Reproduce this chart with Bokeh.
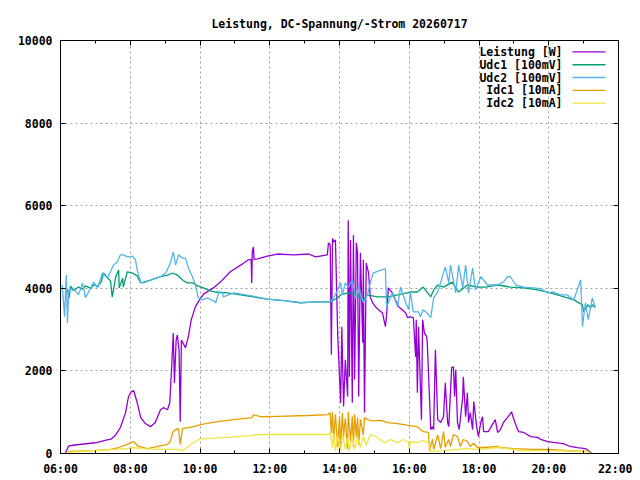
from bokeh.plotting import figure
from bokeh.models import FixedTicker, LinearAxis, Label, Arrow, Range1d
from bokeh.embed import file_html
from bokeh.resources import INLINE

TITLE = "Leistung, DC-Spannung/-Strom 20260717"
x_ticks = [6, 8, 10, 12, 14, 16, 18, 20, 22]
x_tick_labels = ["06:00", "08:00", "10:00", "12:00", "14:00", "16:00", "18:00", "20:00", "22:00"]
x_minor = [7, 9, 11, 13, 15, 17, 19, 21]
y_ticks = [0, 2000, 4000, 6000, 8000, 10000]
y_tick_labels = ["0", "2000", "4000", "6000", "8000", "10000"]

names = ["Leistung [W]", "Udc1 [100mV]", "Udc2 [100mV]", "Idc1 [10mA]", "Idc2 [10mA]"]
colors = ["#9400d3", "#009e73", "#56b4e9", "#e69f00", "#f0e442"]

t_leistung = ["06:08", "06:10", "06:14", "06:21", "06:40", "07:00", "07:20", "07:26", "07:35", "07:43",
              "07:52", "07:57", "08:02", "08:06", "08:12", "08:18", "08:26", "08:35", "08:43", "08:52",
              "08:57", "09:04", "09:08", "09:11", "09:14", "09:16", "09:19", "09:21", "09:24", "09:26",
              "09:28", "09:35", "09:40", "09:45", "09:52", "09:57", "10:06", "10:23", "10:35", "10:52",
              "11:10", "11:23", "11:28", "11:29", "11:30", "11:32", "11:33", "11:39", "11:56", "12:13",
              "12:41", "13:07", "13:19", "13:39", "13:41", "13:44", "13:46", "13:48", "13:50", "13:53",
              "13:57", "14:02", "14:04", "14:07", "14:10", "14:14", "14:15", "14:17", "14:19", "14:22",
              "14:24", "14:26", "14:29", "14:31", "14:33", "14:36", "14:40", "14:41", "14:43", "14:46",
              "14:50", "14:53", "14:57", "15:02", "15:07", "15:14", "15:19", "15:21", "15:24", "15:31",
              "15:36", "15:42", "15:48", "15:54", "15:57", "16:02", "16:07", "16:11", "16:12", "16:14",
              "16:16", "16:19", "16:21", "16:23", "16:26", "16:30", "16:31", "16:37", "16:40", "16:42",
              "16:45", "16:49", "16:54", "16:59", "17:02", "17:06", "17:08", "17:13", "17:16", "17:18",
              "17:20", "17:23", "17:26", "17:32", "17:33", "17:37", "17:40", "17:42", "17:45", "17:49",
              "17:51", "17:56", "17:59", "18:03", "18:06", "18:08", "18:16", "18:23", "18:28", "18:32",
              "18:37", "18:42", "18:49", "18:56", "18:59", "19:03", "19:08", "19:17", "19:29", "19:41",
              "19:46", "19:58", "20:08", "20:25", "20:37", "20:49", "21:03", "21:08", "21:14"]
leistung = [0, 60, 180, 200, 230, 260, 330, 340, 450, 630,
            990, 1380, 1500, 1520, 1230, 870, 725, 650, 750, 1060,
            1110, 1060, 1230, 2030, 2920, 1710, 2750, 2870, 2500, 770,
            2750, 2560, 2830, 3240, 3550, 3670, 3860, 4010, 4150, 4400,
            4560, 4690, 4700, 4130, 4900, 5000, 4700, 4710, 4780, 4830,
            4810, 4830, 4760, 4810, 5100, 5050, 2390, 5210, 5120, 5170,
            2830, 1230, 3070, 1140, 2270, 1380, 5650, 1860, 5170, 1230,
            5290, 1790, 5100, 4860, 1380, 4860, 2680, 4690, 990, 4610,
            4370, 3790, 3650, 3550, 3480, 3400, 3070, 3350, 4010, 3890,
            3720, 3550, 3480, 3400, 3290, 3310, 3290, 2340, 3240, 1470,
            3070, 1710, 820, 3240, 2920, 2830, 2680, 580, 650, 580,
            2510, 820, 750, 890, 1710, 750, 650, 2080, 2100, 1380,
            2030, 750, 580, 1380, 1860, 890, 1470, 750, 990, 580,
            1260, 650, 410, 750, 890, 530, 530, 700, 820, 510,
            580, 750, 870, 1010, 870, 700, 530, 510, 410, 390,
            340, 290, 270, 240, 170, 140, 120, 70, 0]

t_udc1 = ["06:12", "06:15", "06:17", "06:22", "06:31", "06:38", "06:43", "06:52", "06:57", "07:04",
          "07:10", "07:14", "07:21", "07:26", "07:29", "07:35", "07:40", "07:41", "07:47", "07:48",
          "07:55", "08:04", "08:12", "08:18", "08:23", "08:35", "08:52", "09:04", "09:13", "09:21",
          "09:30", "09:38", "09:47", "09:56", "10:06", "10:18", "10:27", "10:47", "11:10", "11:32",
          "11:56", "12:24", "12:53", "13:22", "13:44", "13:57", "14:02", "14:14", "14:31", "14:41",
          "14:48", "15:05", "15:23", "15:40", "16:02", "16:14", "16:24", "16:37", "16:42", "16:49",
          "16:59", "17:14", "17:25", "17:40", "17:57", "18:11", "18:32", "18:54", "19:17", "19:41",
          "19:58", "20:15", "20:32", "20:43", "20:58", "21:00", "21:07", "21:12", "21:15", "21:20"]
udc1 = [3980, 3770, 4050, 3950, 4030, 3980, 4060, 4000, 4080, 4050,
        4150, 4370, 4250, 4180, 3790, 4280, 4440, 4010, 4250, 4030,
        4400, 4370, 4300, 4130, 4150, 4200, 4280, 4320, 4370, 4320,
        4200, 4130, 4130, 4060, 4010, 3940, 3910, 3890, 3840, 3790,
        3740, 3700, 3650, 3670, 3670, 3770, 3840, 3890, 3840, 3720,
        3840, 3790, 3790, 3840, 3910, 3910, 4030, 3790, 3960, 4080,
        4030, 4150, 3910, 4080, 4030, 4030, 4080, 4030, 4010, 3960,
        3910, 3840, 3770, 3720, 3600, 3430, 3600, 3530, 3600, 3530]

t_udc2 = ["06:03", "06:07", "06:10", "06:12", "06:14", "06:22", "06:31", "06:38", "06:43", "06:52",
          "06:57", "07:04", "07:12", "07:21", "07:26", "07:31", "07:38", "07:43", "07:48", "07:55",
          "08:04", "08:09", "08:12", "08:18", "08:23", "08:35", "08:52", "09:01", "09:09", "09:14",
          "09:18", "09:23", "09:30", "09:35", "09:40", "09:47", "09:52", "09:57", "10:04", "10:13",
          "10:16", "10:23", "10:27", "10:32", "10:39", "10:40", "10:58", "11:27", "11:56", "12:24",
          "12:53", "13:22", "13:44", "13:50", "13:57", "14:02", "14:05", "14:10", "14:15", "14:22",
          "14:28", "14:33", "14:41", "14:48", "14:53", "14:58", "15:11", "15:19", "15:21", "15:31",
          "15:40", "15:45", "15:54", "15:59", "16:02", "16:07", "16:16", "16:19", "16:24", "16:31",
          "16:37", "16:42", "16:49", "17:02", "17:08", "17:11", "17:20", "17:25", "17:32", "17:37",
          "17:42", "17:49", "17:54", "18:03", "18:15", "18:32", "18:42", "18:49", "18:54", "19:03",
          "19:17", "19:34", "19:46", "19:58", "20:08", "20:20", "20:32", "20:43", "20:55", "20:58",
          "21:03", "21:08", "21:15", "21:20"]
udc2 = [4080, 3310, 4320, 3160, 3930, 4010, 3840, 4130, 3770, 4010,
        4150, 4010, 4370, 4250, 4400, 4560, 4640, 4810, 4810, 4760,
        4780, 4690, 4440, 4150, 4130, 4200, 4280, 4370, 4610, 4880,
        4560, 4810, 4730, 4730, 4490, 4280, 4080, 3770, 3720, 3770,
        3740, 3700, 3650, 3890, 3890, 3790, 3890, 3820, 3740, 3700,
        3650, 3670, 3670, 3770, 3960, 4130, 3840, 4130, 4030, 4200,
        3770, 4030, 3650, 3840, 4130, 4370, 4440, 4470, 3550, 3890,
        3550, 4030, 3650, 3480, 3910, 3430, 3430, 3310, 3480, 3400,
        3290, 3770, 3910, 4520, 4130, 4560, 3890, 4560, 4010, 4560,
        3890, 4490, 3960, 4280, 4080, 4080, 4150, 4280, 4280, 4080,
        4030, 4010, 3990, 3890, 3910, 3840, 3840, 3720, 4200, 3070,
        3650, 3240, 3770, 3530]

t_idc1 = ["06:12", "06:57", "07:26", "07:40", "07:55", "08:06", "08:14", "08:30", "08:47", "09:04",
          "09:09", "09:13", "09:18", "09:23", "09:26", "09:30", "09:49", "10:01", "10:30", "10:58",
          "11:30", "11:32", "11:44", "12:13", "13:07", "13:40", "13:44", "13:46", "13:48", "13:50",
          "13:53", "13:57", "14:00", "14:02", "14:05", "14:07", "14:10", "14:14", "14:15", "14:19",
          "14:22", "14:24", "14:26", "14:29", "14:31", "14:33", "14:36", "14:41", "14:43", "14:48",
          "14:58", "15:11", "15:23", "15:40", "15:59", "16:14", "16:19", "16:24", "16:33", "16:35",
          "16:40", "16:42", "16:49", "16:54", "16:59", "17:02", "17:08", "17:11", "17:16", "17:23",
          "17:28", "17:33", "17:40", "17:45", "17:51", "17:57", "18:08", "18:32", "18:37", "18:59",
          "19:34", "20:03", "20:32", "21:07", "21:12"]
idc1 = [50, 70, 100, 145, 220, 290, 170, 120, 170, 220,
        290, 510, 580, 600, 220, 600, 650, 700, 770, 820,
        870, 940, 890, 900, 920, 940, 990, 500, 1000, 300,
        950, 150, 900, 200, 980, 400, 850, 100, 1010, 300,
        900, 150, 950, 400, 870, 200, 820, 450, 870, 820,
        790, 800, 750, 725, 680, 650, 580, 530, 510, 60,
        350, 100, 450, 120, 530, 150, 340, 170, 460, 410,
        170, 340, 290, 170, 250, 145, 145, 170, 145, 120,
        100, 100, 70, 50, 0]

t_idc2 = ["06:12", "07:55", "08:06", "08:18", "08:52", "09:21", "09:30", "09:38", "09:49", "10:01",
          "10:13", "10:47", "11:27", "11:44", "12:41", "13:40", "13:44", "13:48", "13:50", "13:53",
          "13:57", "14:02", "14:05", "14:10", "14:14", "14:17", "14:22", "14:26", "14:31", "14:36",
          "14:41", "14:46", "14:53", "15:05", "15:14", "15:19", "15:28", "15:40", "15:50", "15:59",
          "16:00", "16:02", "16:14", "16:24", "16:33", "16:37", "17:00", "17:23", "17:37", "18:03",
          "18:32", "18:49", "19:11", "19:58", "21:07", "21:12"]
idc2 = [30, 120, 145, 120, 100, 100, 70, 150, 265, 360,
        360, 390, 435, 460, 460, 460, 500, 150, 480, 60,
        420, 80, 460, 100, 380, 60, 440, 100, 400, 150,
        420, 200, 460, 390, 290, 265, 340, 265, 340, 265,
        100, 290, 265, 310, 265, 50, 70, 100, 120, 100,
        145, 120, 70, 70, 50, 0]


def to_hours(times):
    return [int(t[:2]) + int(t[3:]) / 60 for t in times]


FONT = "DejaVu Sans Mono"
FS = "11.5px"

p = figure(width=632, height=478, output_backend="svg", toolbar_location=None,
           x_range=Range1d(6, 22), y_range=Range1d(0, 10000),
           min_border_left=60, min_border_right=14, min_border_top=40, min_border_bottom=24,
           background_fill_color="white", border_fill_color="white")
p.outline_line_color = "black"
p.outline_line_width = 1

p.title.text = TITLE
p.title.align = "center"
p.title.text_font = FONT
p.title.text_font_style = "bold"
p.title.text_font_size = FS
p.title.text_color = "black"
p.title.standoff = 20

xt = FixedTicker(ticks=x_ticks, minor_ticks=x_minor)
yt = FixedTicker(ticks=y_ticks, minor_ticks=[])


def style_axis(ax, labels):
    ax.axis_line_color = "black"
    ax.major_tick_in = 5
    ax.major_tick_out = 0
    ax.minor_tick_in = 3
    ax.minor_tick_out = 0
    ax.major_tick_line_color = "black"
    ax.minor_tick_line_color = "black"
    ax.major_label_text_font = FONT
    ax.major_label_text_font_style = "bold"
    ax.major_label_text_font_size = FS
    ax.major_label_text_color = "black"
    ax.major_label_standoff = 8
    ax.major_label_overrides = labels


xa = p.xaxis[0]
xa.ticker = xt
style_axis(xa, {t: l for t, l in zip(x_ticks, x_tick_labels)})
ya = p.yaxis[0]
ya.ticker = yt
style_axis(ya, {t: l for t, l in zip(y_ticks, y_tick_labels)})

top = LinearAxis(ticker=xt)
style_axis(top, {t: "" for t in x_ticks})
top.major_label_text_font_size = "1px"
top.major_label_standoff = 0
p.add_layout(top, "above")
right = LinearAxis(ticker=yt)
style_axis(right, {t: "" for t in y_ticks})
right.minor_tick_in = 0
right.major_label_text_font_size = "1px"
right.major_label_standoff = 0
p.add_layout(right, "right")
ya.minor_tick_in = 0

for g, tk in ((p.xgrid[0], xt), (p.ygrid[0], yt)):
    g.ticker = tk
    g.grid_line_color = "#a0a0a0"
    g.grid_line_dash = "2 3"
    g.grid_line_width = 1

series = [(t_leistung, leistung), (t_udc1, udc1), (t_udc2, udc2), (t_idc1, idc1), (t_idc2, idc2)]
for (ts, vals), c in zip(series, colors):
    p.line(to_hours(ts), vals, line_color=c, line_width=1.3)

# legend (gnuplot style: text right-aligned, sample line to the right)
FRAME_W, FRAME_H = 558, 414


def px_x(dx):
    return dx * 16 / FRAME_W


def px_y(dy):
    return dy * 10000 / FRAME_H


text_right = 22 - px_x(56)
sample_l = 22 - px_x(46)
sample_r = 22 - px_x(13)
row0 = 10000 - px_y(11.5)
step = px_y(12.8)
for i, (n, c) in enumerate(zip(names, colors)):
    yy = row0 - i * step
    p.add_layout(Label(x=text_right, y=yy, text=n, text_align="right", text_baseline="middle",
                       text_font=FONT, text_font_style="bold", text_font_size=FS, text_color="black"))
    p.add_layout(Arrow(end=None, x_start=sample_l, y_start=yy, x_end=sample_r, y_end=yy,
                       line_color=c, line_width=1.3))

open("out.html", "w").write(file_html(p, INLINE))
